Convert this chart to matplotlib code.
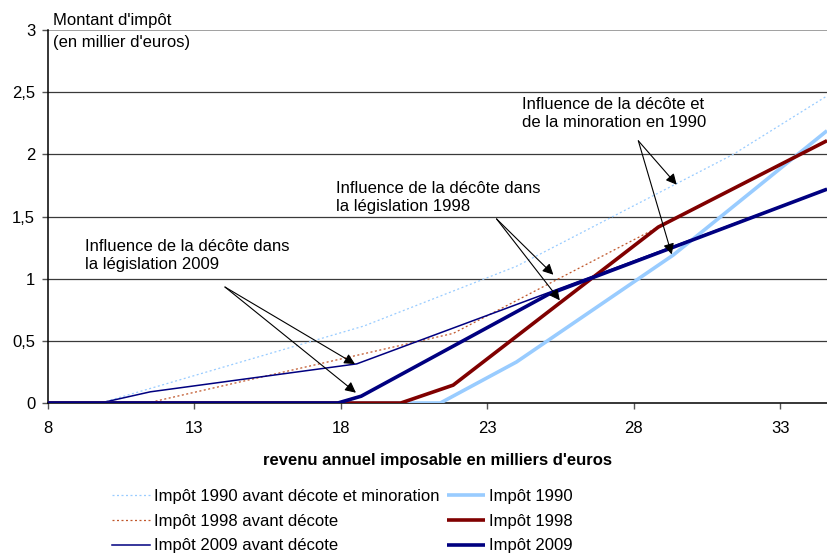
import matplotlib
matplotlib.use("Agg")
import matplotlib.pyplot as plt

plt.rcParams['font.family'] = ['Liberation Sans', 'DejaVu Sans']
plt.rcParams['font.size'] = 12

# ---- data ----
rev_1990_avant = [8, 9.8, 18.8, 24.0, 31.4, 34.6]
imp_1990_avant = [0, 0, 0.62, 1.10, 2.00, 2.47]

rev_1998_avant = [8, 11.4, 21.84, 28.84, 34.6]
imp_1998_avant = [0, 0, 0.56, 1.415, 2.11]

rev_2009_avant = [8, 9.8, 11.5, 18.55, 34.6]
imp_2009_avant = [0, 0, 0.09, 0.315, 1.72]

rev_1990 = [8, 21.4, 24.0, 29.35, 34.6]
imp_1990 = [0, 0, 0.33, 1.19, 2.19]

rev_1998 = [8, 20.05, 21.84, 28.84, 34.6]
imp_1998 = [0, 0, 0.144, 1.415, 2.11]

rev_2009 = [8, 17.9, 18.7, 25.1, 34.6]
imp_2009 = [0, 0, 0.055, 0.875, 1.72]

x_ticks = [8, 13, 18, 23, 28, 33]
y_ticks = [0, 0.5, 1, 1.5, 2, 2.5, 3]
y_tick_labels = ["0", "0,5", "1", "1,5", "2", "2,5", "3"]

labels = ["Impôt 1990 avant décote et minoration", "Impôt 1998 avant décote",
          "Impôt 2009 avant décote", "Impôt 1990", "Impôt 1998", "Impôt 2009"]

# ---- figure ----
fig = plt.figure(figsize=(8.27, 5.53), dpi=100)
ax = fig.add_axes([0.0577, 0.2712, 0.9423, 0.6745])

# gridlines
for yv in y_ticks[1:-1]:
    ax.axhline(yv, color='#3a3a3a', lw=0.9, zorder=0)
ax.axhline(3, color='#a0a0a0', lw=1.4, zorder=0)

c_light = '#99ccff'
c_red = '#800000'
c_navy = '#000080'
c_brown = '#c0562a'

h1, = ax.plot(rev_1990_avant, imp_1990_avant, color=c_light, lw=0.9,
              linestyle=(0, (1.6, 2.0)), label=labels[0], zorder=2)
h2, = ax.plot(rev_1998_avant, imp_1998_avant, color=c_brown, lw=0.9,
              linestyle=(0, (1.6, 2.0)), label=labels[1], zorder=2)
h3, = ax.plot(rev_2009_avant, imp_2009_avant, color=c_navy, lw=1.1,
              label=labels[2], zorder=2)
h4, = ax.plot(rev_1990, imp_1990, color=c_light, lw=2.6, label=labels[3],
              zorder=3, solid_capstyle='butt')
h5, = ax.plot(rev_1998, imp_1998, color=c_red, lw=2.6, label=labels[4],
              zorder=4, solid_capstyle='butt')
h6, = ax.plot(rev_2009, imp_2009, color=c_navy, lw=2.6, label=labels[5],
              zorder=5, solid_capstyle='butt')

ax.set_xlim(8, 34.6)
ax.set_ylim(0, 3)
ax.set_xticks(x_ticks)
ax.set_yticks(y_ticks)
ax.set_yticklabels(y_tick_labels)
ax.tick_params(axis='both', direction='out', length=4, width=1, labelsize=12,
               color='#555555')
ax.tick_params(axis='x', pad=9)
ax.tick_params(axis='y', pad=5)

for s in ['top', 'right']:
    ax.spines[s].set_visible(False)
ax.spines['left'].set_color('black')
ax.spines['bottom'].set_color('black')
ax.spines['left'].set_linewidth(1.1)
ax.spines['bottom'].set_linewidth(1.1)

ax.set_xlabel("revenu annuel imposable en milliers d'euros", fontweight='bold',
              fontsize=12, labelpad=12)

fig.text(53 / 827, 1 - 20 / 553, "Montant d'impôt", ha='left', va='center', fontsize=12)
fig.text(53 / 827, 1 - 42 / 553, "(en millier d'euros)", ha='left', va='center', fontsize=12)

# annotations
ax.text(9.27, 1.183, "Influence de la décôte dans\nla législation 2009",
        ha='left', va='center', fontsize=12, linespacing=1.25)
ax.text(17.85, 1.656, "Influence de la décôte dans\nla législation 1998",
        ha='left', va='center', fontsize=12, linespacing=1.25)
ax.text(24.18, 2.327, "Influence de la décôte et\nde la minoration en 1990",
        ha='left', va='center', fontsize=12, linespacing=1.25)

arrowprops = dict(arrowstyle='-|>', color='black', lw=0.8, mutation_scale=16,
                  shrinkA=0, shrinkB=0)
arrows = [((14.05, 0.933), (18.49, 0.313)),
          ((14.05, 0.933), (18.52, 0.083)),
          ((23.32, 1.481), (25.26, 1.032)),
          ((23.32, 1.481), (25.48, 0.826)),
          ((28.16, 2.109), (29.47, 1.756)),
          ((28.16, 2.109), (29.30, 1.195))]
for start, end in arrows:
    ax.annotate('', xy=end, xytext=start, arrowprops=arrowprops, zorder=6)

leg = fig.legend(handles=[h1, h2, h3, h4, h5, h6], ncol=2, frameon=False,
                 loc='upper left', bbox_to_anchor=(112 / 827, 1 - 489 / 553),
                 fontsize=12, handlelength=2.3, handletextpad=0.25,
                 columnspacing=0.4, labelspacing=0.58, borderpad=0, borderaxespad=0)

fig.savefig("out.png", dpi=100)
